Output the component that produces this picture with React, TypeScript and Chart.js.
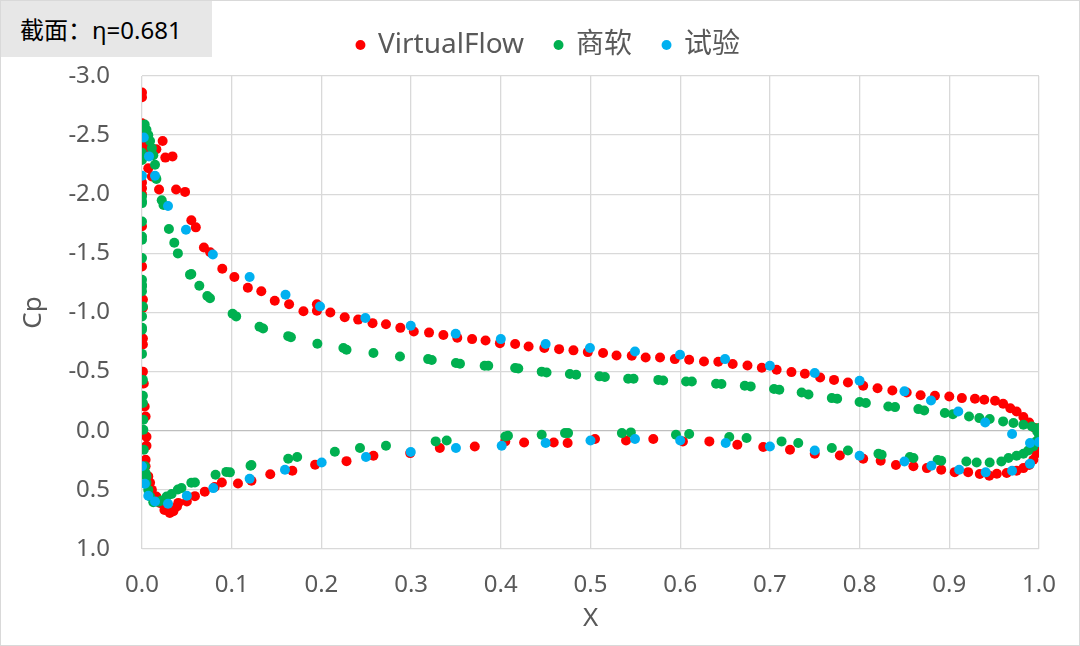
import React, { useEffect, useRef } from 'react';
import { Chart, registerables } from 'chart.js';

Chart.register(...registerables);

const FONT = '"Noto Sans", "Noto Sans CJK SC", sans-serif';

const sectionLabel = '截面：η=0.681';
const seriesNames = ['VirtualFlow', '商软', '试验'];
const seriesColors = ['#ff0000', '#00b050', '#00b0f0'];

const xTicks = [0, 0.1, 0.2, 0.3, 0.4, 0.5, 0.6, 0.7, 0.8, 0.9, 1.0];
const cpTicks = [-3.0, -2.5, -2.0, -1.5, -1.0, -0.5, 0.0, 0.5, 1.0];

// [x, Cp]
const virtualFlow: [number, number][] = [
  [0.000, -2.86], [0.000, -2.82], [0.000, -2.60], [0.002, -2.55], [0.003, -2.42], [0.002, -2.38],
  [0.003, -2.34], [0.016, -2.38], [0.023, -2.45], [0.026, -2.31], [0.034, -2.32], [0.007, -2.22],
  [0.011, -2.15], [0.019, -2.04], [0.038, -2.04], [0.048, -2.02], [0.055, -1.78], [0.060, -1.72],
  [0.069, -1.55], [0.076, -1.51], [0.0895, -1.37], [0.103, -1.30], [0.118, -1.21], [0.133, -1.18],
  [0.148, -1.10], [0.164, -1.07], [0.180, -1.01], [0.195, -1.07], [0.195, -1.015], [0.210, -1.00],
  [0.226, -0.96], [0.241, -0.94], [0.257, -0.91], [0.272, -0.90], [0.288, -0.87], [0.303, -0.84],
  [0.320, -0.83], [0.336, -0.81], [0.3515, -0.787], [0.368, -0.775], [0.383, -0.763], [0.399, -0.741],
  [0.416, -0.733], [0.431, -0.713], [0.4485, -0.70], [0.465, -0.69], [0.481, -0.68], [0.497, -0.665],
  [0.514, -0.657], [0.529, -0.637], [0.546, -0.634], [0.5615, -0.62], [0.5775, -0.62], [0.594, -0.606],
  [0.610, -0.60], [0.6265, -0.586], [0.6425, -0.583], [0.6585, -0.564], [0.675, -0.552], [0.691, -0.533],
  [0.7075, -0.516], [0.724, -0.496], [0.739, -0.482], [0.756, -0.45], [0.7715, -0.43], [0.787, -0.408],
  [0.804, -0.38], [0.820, -0.36], [0.8365, -0.34], [0.8525, -0.324], [0.868, -0.30], [0.884, -0.296],
  [0.900, -0.29], [0.914, -0.276], [0.9286, -0.27], [0.939, -0.262], [0.951, -0.254], [0.960, -0.228],
  [0.968, -0.19], [0.975, -0.163], [0.9826, -0.116], [0.989, -0.07], [0.9955, -0.023],
  [1.000, 0.076], [1.000, 0.133], [0.997, 0.19], [0.9937, 0.245], [0.989, 0.29], [0.9826, 0.316],
  [0.975, 0.338], [0.964, 0.358], [0.953, 0.364], [0.9446, 0.38], [0.934, 0.366], [0.921, 0.35],
  [0.906, 0.35], [0.891, 0.33], [0.875, 0.316], [0.860, 0.30], [0.8405, 0.29], [0.8235, 0.254],
  [0.804, 0.237], [0.778, 0.209], [0.750, 0.195], [0.7224, 0.16], [0.6926, 0.138], [0.6637, 0.118],
  [0.6325, 0.09], [0.603, 0.09], [0.570, 0.07], [0.5396, 0.082], [0.505, 0.07], [0.4745, 0.104],
  [0.459, 0.10], [0.426, 0.10], [0.405, 0.09], [0.371, 0.133], [0.332, 0.146], [0.299, 0.189],
  [0.258, 0.211], [0.228, 0.257], [0.193, 0.287], [0.1676, 0.338], [0.143, 0.368], [0.122, 0.423],
  [0.107, 0.446], [0.089, 0.437], [0.081, 0.476], [0.070, 0.515], [0.059, 0.553], [0.050, 0.598],
  [0.0405, 0.61], [0.039, 0.64], [0.035, 0.68], [0.031, 0.696], [0.025, 0.67], [0.0275, 0.654],
  [0.020, 0.61], [0.016, 0.556], [0.011, 0.50], [0.009, 0.44], [0.007, 0.386], [0.004, 0.30],
  [0.004, 0.245], [0.005, 0.127], [0.005, 0.05], [0.004, -0.12], [0.003, -0.205], [0.002, -0.40],
  [0.001, -0.50], [0.001, -0.73], [0.001, -0.78], [0.001, -1.04], [0.001, -1.11], [0.000, -1.39],
  [0.000, -1.73], [0.000, -2.00], [0.000, -2.05], [0.000, -2.10],
];

const commercial: [number, number][] = [
  [0.003, -2.59], [0.005, -2.545], [0.007, -2.50], [0.009, -2.45], [0.011, -2.39], [0.0126, -2.33],
  [0.0145, -2.25], [0.016, -2.13], [0.022, -1.95], [0.024, -1.91], [0.000, -2.35], [0.000, -2.29],
  [0.000, -1.98], [0.000, -1.94], [0.030, -1.706], [0.036, -1.59], [0.040, -1.50], [0.055, -1.325],
  [0.0535, -1.32], [0.0639, -1.226], [0.0728, -1.14], [0.0758, -1.12], [0.101, -0.99], [0.105, -0.967],
  [0.131, -0.88], [0.135, -0.865], [0.163, -0.80], [0.166, -0.79], [0.1955, -0.736], [0.2245, -0.70],
  [0.228, -0.685], [0.258, -0.657], [0.2876, -0.628], [0.319, -0.606], [0.323, -0.598], [0.350, -0.573],
  [0.3545, -0.567], [0.382, -0.55], [0.386, -0.55], [0.416, -0.53], [0.4195, -0.527], [0.4456, -0.50],
  [0.451, -0.493], [0.477, -0.48], [0.484, -0.473], [0.510, -0.46], [0.516, -0.454], [0.542, -0.44],
  [0.548, -0.44], [0.5756, -0.43], [0.581, -0.425], [0.6065, -0.417], [0.613, -0.417], [0.640, -0.397],
  [0.646, -0.395], [0.672, -0.38], [0.6786, -0.375], [0.7046, -0.353], [0.7105, -0.347], [0.7354, -0.324],
  [0.743, -0.307], [0.769, -0.276], [0.775, -0.27], [0.800, -0.243], [0.807, -0.234], [0.832, -0.205],
  [0.8395, -0.20], [0.8655, -0.183], [0.872, -0.172], [0.895, -0.15], [0.904, -0.14], [0.922, -0.12],
  [0.9335, -0.107], [0.945, -0.099], [0.960, -0.079], [0.9715, -0.065], [0.9826, -0.05], [0.992, -0.036],
  [1.000, -0.023], [0.998, 0.006], [1.000, 0.034],
  [0.997, 0.09], [0.9937, 0.133], [0.988, 0.167], [0.9826, 0.195], [0.975, 0.211], [0.966, 0.231],
  [0.958, 0.26], [0.945, 0.268], [0.9305, 0.268], [0.919, 0.26], [0.891, 0.254], [0.887, 0.248],
  [0.860, 0.231], [0.856, 0.222], [0.8246, 0.203], [0.821, 0.194], [0.787, 0.167], [0.769, 0.146],
  [0.7316, 0.104], [0.713, 0.09], [0.674, 0.062], [0.6547, 0.053], [0.610, 0.028], [0.5953, 0.034],
  [0.545, 0.014], [0.535, 0.02], [0.475, 0.02], [0.4716, 0.02], [0.4456, 0.034], [0.408, 0.042],
  [0.405, 0.048], [0.3397, 0.082], [0.3274, 0.09], [0.272, 0.127], [0.243, 0.146], [0.215, 0.178],
  [0.173, 0.222], [0.163, 0.237], [0.122, 0.29], [0.121, 0.296], [0.098, 0.352], [0.094, 0.348],
  [0.082, 0.372], [0.059, 0.437], [0.055, 0.44], [0.044, 0.485], [0.040, 0.497], [0.033, 0.535],
  [0.0275, 0.556], [0.022, 0.59], [0.018, 0.60], [0.0126, 0.605], [0.009, 0.556], [0.007, 0.50],
  [0.005, 0.44], [0.005, 0.386], [0.004, 0.358], [0.0033, 0.30], [0.002, 0.16], [0.0015, -0.008],
  [0.0015, -0.093], [0.001, -0.234], [0.001, -0.296], [0.001, -0.43], [0.000, -0.65], [0.000, -0.854],
  [0.000, -0.87], [0.000, -0.967], [0.001, -1.05], [0.000, -1.18], [0.000, -1.22], [0.000, -1.235],
  [0.000, -1.277], [0.000, -1.46], [0.000, -1.615], [0.000, -1.643], [0.000, -1.77], [0.000, -1.925],
];

const experiment: [number, number][] = [
  [0.002, -2.48], [0.0078, -2.32], [0.000, -2.156], [0.0145, -2.156], [0.029, -1.90], [0.049, -1.70],
  [0.079, -1.49], [0.120, -1.30], [0.160, -1.15], [0.1985, -1.05], [0.249, -0.953], [0.2996, -0.888],
  [0.3497, -0.82], [0.400, -0.775], [0.450, -0.733], [0.4994, -0.70], [0.5496, -0.67], [0.5998, -0.643],
  [0.650, -0.606], [0.700, -0.55], [0.750, -0.488], [0.800, -0.423], [0.850, -0.333], [0.8796, -0.256],
  [0.910, -0.163], [0.940, -0.07], [0.970, 0.028], [0.990, 0.104], [1.000, 0.096], [0.990, 0.28],
  [0.970, 0.338], [0.9406, 0.352], [0.911, 0.33], [0.880, 0.296], [0.850, 0.26], [0.800, 0.211],
  [0.750, 0.167], [0.700, 0.133], [0.6507, 0.104], [0.600, 0.082], [0.5496, 0.07], [0.500, 0.082],
  [0.450, 0.104], [0.401, 0.127], [0.350, 0.146], [0.2996, 0.18], [0.2497, 0.222], [0.2003, 0.268],
  [0.1594, 0.33], [0.120, 0.406], [0.0795, 0.485], [0.050, 0.55], [0.029, 0.617], [0.0145, 0.598],
  [0.007, 0.55], [0.0033, 0.448], [0.000, 0.30],
];

const seriesData = [virtualFlow, commercial, experiment];

// pad the legend so the plot area starts where the reference has it
const legendSpacer = {
  id: 'legendSpacer',
  beforeInit(chart: any) {
    const originalFit = chart.legend.fit;
    chart.legend.fit = function fit() {
      originalFit.bind(chart.legend)();
      this.height = 76;
    };
  },
};

const App: React.FC = () => {
  const canvasRef = useRef<HTMLCanvasElement>(null);
  const chartRef = useRef<Chart | null>(null);

  useEffect(() => {
    if (!canvasRef.current) return;
    if (chartRef.current) chartRef.current.destroy();

    Chart.defaults.font.family = FONT;
    Chart.defaults.color = '#595959';

    chartRef.current = new Chart(canvasRef.current, {
      type: 'scatter',
      data: {
        datasets: seriesData.map((points, i) => ({
          label: seriesNames[i],
          data: points.map(([x, y]) => ({ x, y })),
          backgroundColor: seriesColors[i],
          borderColor: seriesColors[i],
          borderWidth: 0,
          pointRadius: 5,
          pointStyle: 'circle',
          order: 3 - i,
        })),
      },
      options: {
        responsive: false,
        animation: false,
        events: [],
        layout: { padding: { left: 58, right: 41, top: 0, bottom: 0 } },
        plugins: {
          tooltip: { enabled: false },
          legend: {
            position: 'top',
            labels: {
              usePointStyle: true,
              boxWidth: 7,
              boxHeight: 7,
              padding: 31,
              color: '#595959',
              font: { size: 28, family: FONT },
              sort: (a: any, b: any) => a.datasetIndex - b.datasetIndex,
            },
          },
        },
        scales: {
          x: {
            type: 'linear',
            min: 0,
            max: 1,
            afterBuildTicks: (scale: any) => {
              scale.ticks = xTicks.map((v) => ({ value: v }));
            },
            afterFit: (scale: any) => {
              scale.height = 97;
            },
            ticks: {
              padding: 22,
              color: '#595959',
              font: { size: 24 },
              callback: (v: any) => Number(v).toFixed(1),
            },
            grid: { color: '#d9d9d9', lineWidth: 1.3, drawTicks: false },
            border: { display: false },
            title: {
              display: true,
              text: 'X',
              color: '#595959',
              font: { size: 26 },
              padding: { top: 0, bottom: 12 },
            },
          },
          y: {
            type: 'linear',
            reverse: true,
            min: -3,
            max: 1,
            afterBuildTicks: (scale: any) => {
              scale.ticks = cpTicks.map((v) => ({ value: v }));
            },
            afterFit: (scale: any) => {
              scale.width = 84;
            },
            ticks: {
              padding: 32,
              color: '#595959',
              font: { size: 24 },
              callback: (v: any) => Number(v).toFixed(1),
            },
            grid: {
              color: (ctx: any) => (ctx.tick && ctx.tick.value === 0 ? '#bfbfbf' : '#d9d9d9'),
              lineWidth: 1.3,
              drawTicks: false,
            },
            border: { display: false },
            title: {
              display: true,
              text: 'Cp',
              color: '#595959',
              font: { size: 26 },
              padding: { top: -40, bottom: 0 },
            },
          },
        },
      },
      plugins: [legendSpacer],
    });

    return () => {
      if (chartRef.current) {
        chartRef.current.destroy();
        chartRef.current = null;
      }
    };
  }, []);

  return (
    <div style={{ position: 'absolute', left: 0, top: 0, width: 1080, height: 646, background: '#ffffff' }}>
      <canvas ref={canvasRef} width={1080} height={646} style={{ position: 'absolute', left: 0, top: 0, width: 1080, height: 646 }} />
      <div
        style={{
          position: 'absolute',
          left: 0,
          top: 0,
          width: 212,
          height: 57,
          background: '#e7e7e7',
          fontFamily: FONT,
          fontSize: 24,
          color: '#000000',
          lineHeight: '60px',
          paddingLeft: 20,
          boxSizing: 'border-box',
          whiteSpace: 'nowrap',
        }}
      >
        {sectionLabel}
      </div>
      <div
        style={{
          position: 'absolute',
          left: 0,
          top: 0,
          width: 1080,
          height: 646,
          border: '1px solid #d9d9d9',
          boxSizing: 'border-box',
          pointerEvents: 'none',
        }}
      />
    </div>
  );
};

export default App;
